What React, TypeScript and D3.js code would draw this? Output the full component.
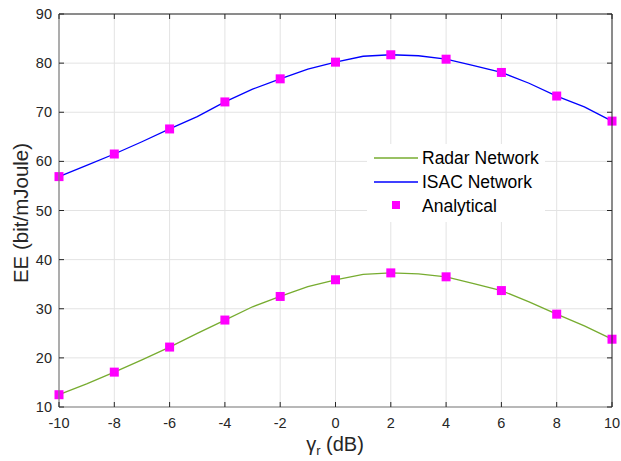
import React from "react";
import * as d3 from "d3";

const xValues = [-10, -9, -8, -7, -6, -5, -4, -3, -2, -1, 0, 1, 2, 3, 4, 5, 6, 7, 8, 9, 10];
const isacValues = [56.9, 59.2, 61.5, 64.0, 66.6, 69.1, 72.1, 74.7, 76.8, 78.8, 80.2, 81.4, 81.7, 81.5, 80.8, 79.5, 78.1, 75.9, 73.3, 71.1, 68.2];
const radarValues = [12.5, 14.7, 17.1, 19.6, 22.2, 25.0, 27.7, 30.4, 32.5, 34.5, 35.9, 37.0, 37.3, 37.1, 36.5, 35.1, 33.7, 31.4, 28.9, 26.5, 23.8];
const markerX = [-10, -8, -6, -4, -2, 0, 2, 4, 6, 8, 10];
const xTicks = [-10, -8, -6, -4, -2, 0, 2, 4, 6, 8, 10];
const yTicks = [10, 20, 30, 40, 50, 60, 70, 80, 90];
const legendLabels = ["Radar Network", "ISAC Network", "Analytical"];

export default function App() {
  const L = 59, R = 612, T = 14, B = 407;
  const x = d3.scaleLinear().domain([-10, 10]).range([L, R]);
  const y = d3.scaleLinear().domain([10, 90]).range([B, T]);
  const line = d3.line<number>().x((_, i) => x(xValues[i])).y((d) => y(d));
  const font = "'Liberation Sans', Arial, Helvetica, sans-serif";
  const tc = "#262626";
  const ms = 9;
  const markers = (vals: number[]) =>
    markerX.map((mx) => {
      const i = xValues.indexOf(mx);
      return (
        <rect key={mx} x={x(mx) - ms / 2} y={y(vals[i]) - ms / 2} width={ms} height={ms} fill="#ff00ff" />
      );
    });
  return (
    <svg width={621} height={461} style={{ position: "absolute", left: 0, top: 0, background: "#fff" }} fontFamily={font}>
      <rect x={0} y={0} width={621} height={461} fill="#fff" />
      {xTicks.map((t) => (
        <line key={"gx" + t} x1={x(t)} x2={x(t)} y1={T} y2={B} stroke="#e3e3e3" strokeWidth={1} />
      ))}
      {yTicks.map((t) => (
        <line key={"gy" + t} x1={L} x2={R} y1={y(t)} y2={y(t)} stroke="#e3e3e3" strokeWidth={1} />
      ))}
      {/* legend background */}
      <rect x={367} y={144} width={178} height={78} fill="#fff" />
      <path d={line(radarValues) || ""} fill="none" stroke="#77ac30" strokeWidth={1.3} />
      <path d={line(isacValues) || ""} fill="none" stroke="#0000ff" strokeWidth={1.3} />
      {markers(radarValues)}
      {markers(isacValues)}
      {/* axes box */}
      <line x1={L} x2={R} y1={T} y2={T} stroke="#262626" strokeWidth={1} />
      <line x1={R} x2={R} y1={T} y2={B} stroke="#262626" strokeWidth={1} />
      <line x1={L} x2={R} y1={B} y2={B} stroke="#808080" strokeWidth={1.2} />
      <line x1={L} x2={L} y1={T} y2={B} stroke="#808080" strokeWidth={1.2} />
      {xTicks.map((t) => (
        <g key={"tx" + t}>
          <line x1={x(t)} x2={x(t)} y1={B} y2={B - 5} stroke="#262626" />
          <line x1={x(t)} x2={x(t)} y1={T} y2={T + 5} stroke="#262626" />
          <text x={x(t)} y={428} textAnchor="middle" fontSize={14.5} fill={tc}>{t}</text>
        </g>
      ))}
      {yTicks.map((t) => (
        <g key={"ty" + t}>
          <line x1={L} x2={L + 5} y1={y(t)} y2={y(t)} stroke="#262626" />
          <line x1={R} x2={R - 5} y1={y(t)} y2={y(t)} stroke="#262626" />
          <text x={52} y={y(t) + 5} textAnchor="end" fontSize={14.5} fill={tc}>{t}</text>
        </g>
      ))}
      <text x={335} y={451} textAnchor="middle" fontSize={20} fill={tc}>
        γ<tspan fontSize={13} dy={4}>r</tspan><tspan dy={-4}> (dB)</tspan>
      </text>
      <text transform={`translate(27.5,213) rotate(-90)`} textAnchor="middle" fontSize={20.5} fill={tc}>
        EE (bit/mJoule)
      </text>
      {/* legend */}
      <line x1={374} x2={418} y1={158} y2={158} stroke="#77ac30" strokeWidth={1.3} />
      <line x1={374} x2={418} y1={182} y2={182} stroke="#0000ff" strokeWidth={1.3} />
      <rect x={396 - 4} y={205 - 4} width={8} height={8} fill="#ff00ff" />
      {legendLabels.map((lab, i) => (
        <text key={lab} x={422} y={158 + i * 24 + 6} fontSize={17.5} fill="#000">{lab}</text>
      ))}
    </svg>
  );
}
